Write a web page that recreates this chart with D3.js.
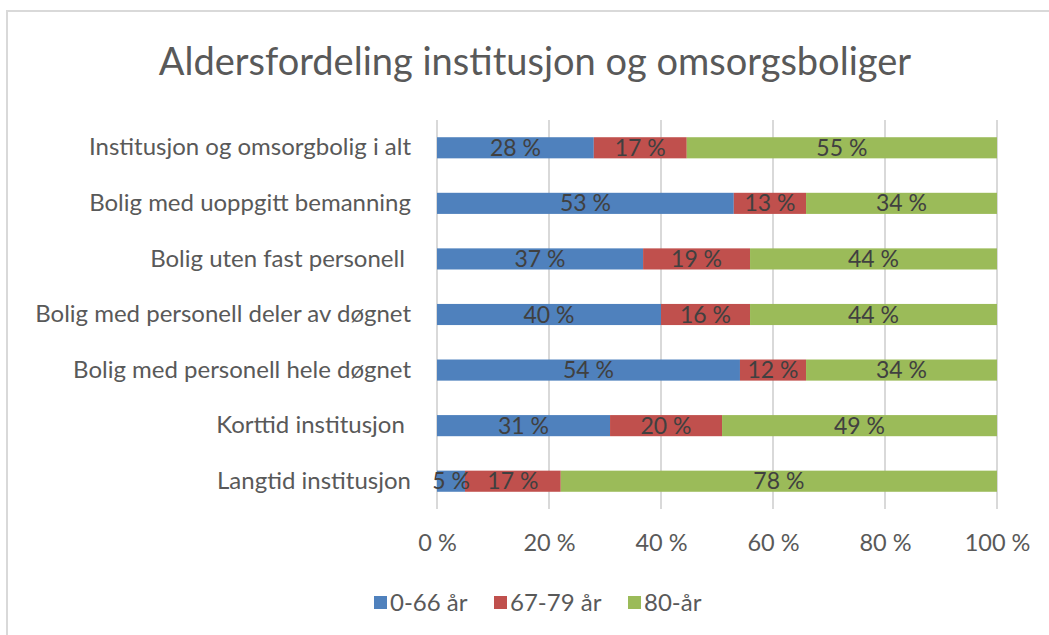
<!DOCTYPE html>
<html>
<head>
<meta charset="utf-8">
<script src="https://cdn.jsdelivr.net/npm/d3@7"></script>
<style>
    body { margin: 0; background: #fff; }
    .chart { width: 1049px; height: 635px; }
    text { font-family: Lato, 'Open Sans', sans-serif; fill: #595959; }
</style>
</head>
<body>
<div class="chart"></div>
<script>
(function () {
    'use strict';

    // categories, top to bottom
    const categories = [
        'Institusjon og omsorgbolig i alt',
        'Bolig med uoppgitt bemanning',
        'Bolig uten fast personell ',
        'Bolig med personell deler av døgnet',
        'Bolig med personell hele døgnet',
        'Korttid institusjon ',
        'Langtid institusjon'
    ];
    const seriesNames = ['0-66 år', '67-79 år', '80-år'];
    const seriesColors = ['#4f81bd', '#c0504d', '#9bbb59'];

    // shares in percent
    const young = [28.0, 53.0, 36.8, 40.0, 54.1, 30.9, 5.0];
    const middle = [16.6, 12.9, 19.1, 15.9, 11.8, 20.0, 17.1];
    const old = [55.4, 34.1, 44.1, 44.1, 34.1, 49.1, 77.9];

    const xTicks = [0, 20, 40, 60, 80, 100];
    const title = 'Aldersfordeling institusjon og omsorgsboliger';

    const margin = { top: 120, left: 437, right: 52, bottom: 126 };
    const W = 1049, H = 635;
    const width = W - margin.left - margin.right;
    const height = H - margin.top - margin.bottom;

    const svg = d3.select('.chart').append('svg')
        .attr('width', W)
        .attr('height', H);

    // chart border
    svg.append('rect')
        .attr('x', 7).attr('y', 11)
        .attr('width', W + 10).attr('height', H + 10)
        .attr('fill', 'none')
        .attr('stroke', '#d9d9d9')
        .attr('stroke-width', 2);

    svg.append('text')
        .attr('x', 535)
        .attr('y', 75)
        .attr('text-anchor', 'middle')
        .style('font-size', '38px')
        .text(title);

    const rows = categories.map(function (c, i) {
        return { cat: c, values: [young[i], middle[i], old[i]] };
    });

    const x = d3.scaleLinear().domain([0, 100]).range([0, width]);
    const y = d3.scaleBand().domain(categories).range([0, height]).paddingInner(0.62).paddingOuter(0.31);

    const g = svg.append('g').attr('transform', 'translate(' + margin.left + ',' + margin.top + ')');

    // gridlines
    g.append('g').selectAll('line')
        .data(xTicks)
        .enter().append('line')
        .attr('x1', function (d) { return x(d); })
        .attr('x2', function (d) { return x(d); })
        .attr('y1', 0)
        .attr('y2', height)
        .attr('stroke', '#d9d9d9')
        .attr('stroke-width', 2);

    const xAxis = d3.axisBottom(x)
        .tickValues(xTicks)
        .tickSize(0)
        .tickPadding(25)
        .tickFormat(function (d) { return d + ' %'; });

    g.append('g')
        .attr('transform', 'translate(0,' + height + ')')
        .call(xAxis)
        .call(function (a) { a.select('.domain').remove(); })
        .call(function (a) {
            a.selectAll('text')
                .style('font-size', '23.5px')
                .style('font-family', 'Lato, sans-serif')
                .attr('fill', '#595959');
        });

    const yAxis = d3.axisLeft(y).tickSize(0).tickPadding(26);
    g.append('g')
        .call(yAxis)
        .call(function (a) { a.select('.domain').remove(); })
        .call(function (a) {
            a.selectAll('text')
                .style('font-size', '24px')
                .style('font-family', 'Lato, sans-serif')
                .style('white-space', 'pre')
                .attr('fill', '#595959');
        });

    const segs = [];
    rows.forEach(function (r) {
        let acc = 0;
        r.values.forEach(function (v, k) {
            segs.push({ cat: r.cat, k: k, x0: acc, x1: acc + v, v: v });
            acc += v;
        });
    });

    g.append('g').selectAll('rect')
        .data(segs)
        .enter().append('rect')
        .attr('x', function (d) { return x(d.x0); })
        .attr('y', function (d) { return y(d.cat); })
        .attr('width', function (d) { return x(d.x1) - x(d.x0); })
        .attr('height', y.bandwidth())
        .attr('fill', function (d) { return seriesColors[d.k]; });

    g.append('g').selectAll('text')
        .data(segs)
        .enter().append('text')
        .attr('x', function (d) { return (x(d.x0) + x(d.x1)) / 2; })
        .attr('y', function (d) { return y(d.cat) + y.bandwidth() / 2; })
        .attr('dy', '0.35em')
        .attr('text-anchor', 'middle')
        .style('font-size', '23px')
        .style('fill', '#404040')
        .text(function (d) { return Math.round(d.v) + ' %'; });

    // legend
    const legendX = [374, 494, 628];
    const legend = svg.append('g').selectAll('g')
        .data(seriesNames)
        .enter().append('g')
        .attr('transform', function (d, i) { return 'translate(' + legendX[i] + ',596)'; });

    legend.append('rect')
        .attr('width', 13).attr('height', 13)
        .attr('fill', function (d, i) { return seriesColors[i]; });

    legend.append('text')
        .attr('x', 16)
        .attr('y', 7)
        .attr('dy', '0.35em')
        .style('font-size', '24px')
        .text(function (d) { return d; });
}());
</script>
</body>
</html>
